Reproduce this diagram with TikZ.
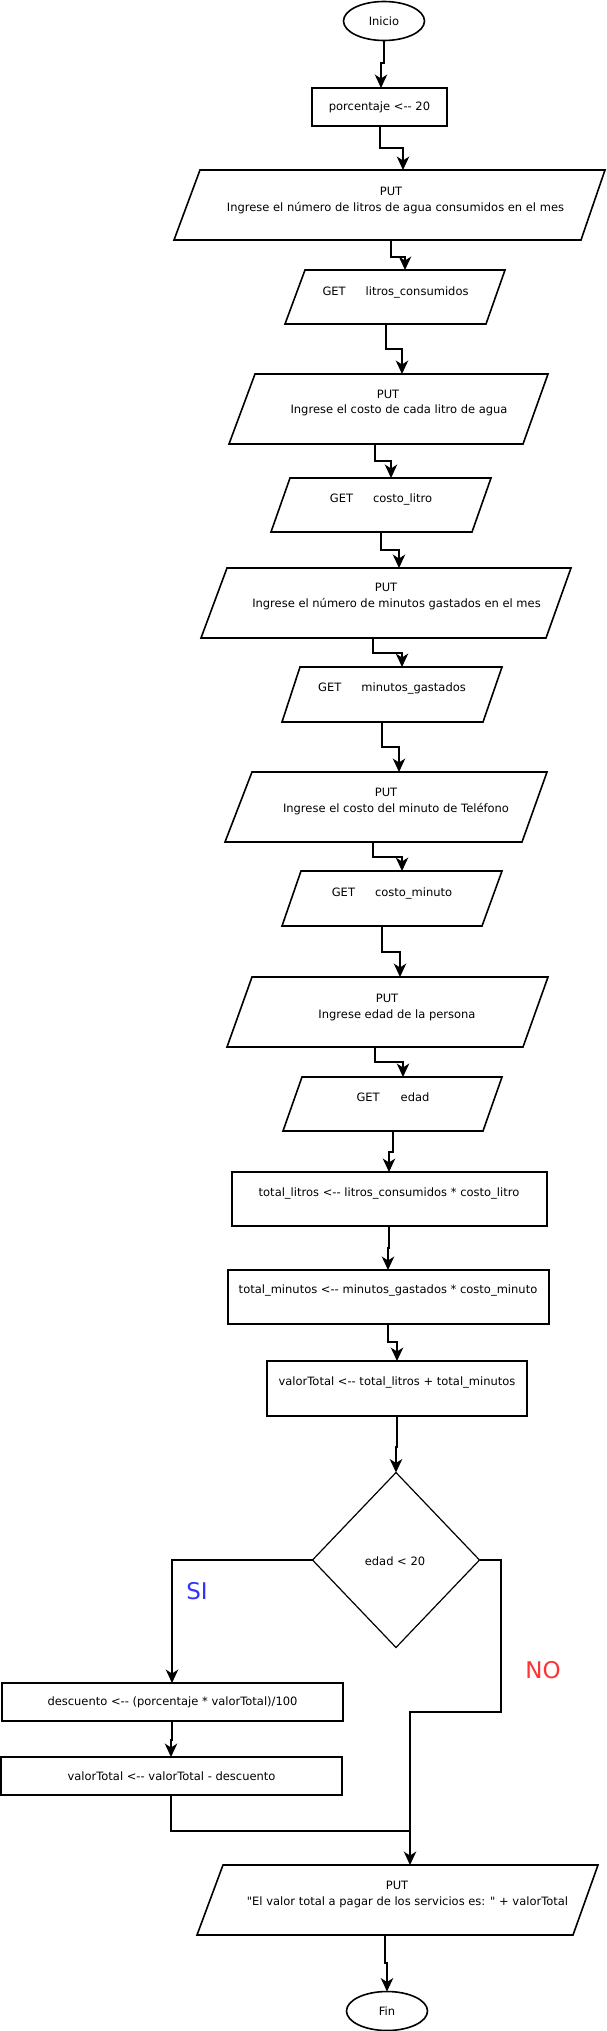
\documentclass[tikz,border=0pt]{standalone}
\usepackage{fontspec}
\newfontfamily\dv{DejaVu Sans}
\usetikzlibrary{shapes.geometric,arrows.meta}
\definecolor{siblue}{RGB}{51,51,255}
\definecolor{nored}{RGB}{255,51,51}
\tikzset{
 box/.style={draw, line width=1.7pt, inner sep=0pt, outer sep=0pt},
 term/.style={ellipse, draw, line width=1.6pt, inner sep=0pt, outer sep=0pt, minimum width=81pt, minimum height=39pt, font=\dv\fontsize{11.5}{14}\selectfont},
 ioline/.style={line width=1.6pt, line join=miter},
 inv/.style={inner sep=0pt, outer sep=0pt},
 txt/.style={font=\dv\fontsize{11.5}{14}\selectfont, inner sep=0pt, anchor=base},
 big/.style={font=\dv\fontsize{23}{26}\selectfont, inner sep=0pt},
 arr/.style={line width=1.4pt, -{Stealth[length=13.5pt,width=12.5pt,inset=4pt]}},
 ln/.style={line width=1.4pt},
}
% name, top-left x, top-right x, bottom-left x, bottom-right x, top y, bottom y
\newcommand\iobox[7]{%
 \draw[ioline] (#2,#6) -- (#3,#6) -- (#5,#7) -- (#4,#7) -- cycle;
 \node[inv, minimum width={#3-#4}, minimum height={#7-#6}] (#1) at ({(#4+#3)/2},{(#6+#7)/2}) {};}
\begin{document}
\begin{tikzpicture}[x=1pt,y=-1pt]
\fill[white] (0,0) rectangle (606,2031);
\useasboundingbox (0,0) rectangle (606,2031);

% start
\node[term] (inicio) at (384,21) {Inicio};
\node[box, minimum width=135pt, minimum height=38pt, font=\dv\fontsize{11.5}{14}\selectfont] (porc) at (379.5,107) {porcentaje <-- 20};
\draw[arr] (inicio.south) -- (384,63) -- (381,63) -- (porc.north -| 381,0);

% PUT 1
\iobox{put1}{200}{605}{174}{581}{170}{240}
\node[txt] (put1a) at (391,195) {PUT};
\node[txt] (put1b) at (395.5,211) {Ingrese el número de litros de agua consumidos en el mes};
\draw[arr] (porc.south -| 380,0) -- (380,148) -- (403,148) -- (put1.north -| 403,0);

% GET 1
\iobox{get1}{305}{505}{285}{486}{270}{324}
\node[txt] (get1t) at (395.5,295) {GET\hspace{20pt}litros\_consumidos};
\draw[arr] (put1.south -| 391,0) -- (391,257) -- (405,257) -- (get1.north -| 405,0);

% PUT 2
\iobox{put2}{255}{548}{229}{523}{374}{444}
\node[txt] (put2a) at (388,398) {PUT};
\node[txt] (put2b) at (399,413) {Ingrese el costo de cada litro de agua};
\draw[arr] (get1.south -| 386,0) -- (386,349) -- (402,349) -- (put2.north -| 402,0);

% GET 2
\iobox{get2}{290}{491}{271}{472}{478}{532}
\node[txt] (get2t) at (381,502) {GET\hspace{20pt}costo\_litro};
\draw[arr] (put2.south -| 375,0) -- (375,461) -- (391,461) -- (get2.north -| 391,0);

% PUT 3
\iobox{put3}{227}{571}{201}{546}{568}{638}
\node[txt] (put3a) at (386,591) {PUT};
\node[txt] (put3b) at (396.5,607) {Ingrese el número de minutos gastados en el mes};
\draw[arr] (get2.south -| 381,0) -- (381,550) -- (399,550) -- (put3.north -| 399,0);

% GET 3
\iobox{get3}{300}{502}{282}{483}{667}{722}
\node[txt] (get3t) at (392,691) {GET\hspace{20pt}minutos\_gastados};
\draw[arr] (put3.south -| 373,0) -- (373,653) -- (402,653) -- (get3.north -| 402,0);

% PUT 4
\iobox{put4}{252}{547}{225}{522}{772}{842}
\node[txt] (put4a) at (386,796) {PUT};
\node[txt] (put4b) at (396,812) {Ingrese el costo del minuto de Teléfono};
\draw[arr] (get3.south -| 382,0) -- (382,747) -- (399,747) -- (put4.north -| 399,0);

% GET 4
\iobox{get4}{301}{502}{282}{482}{871}{926}
\node[txt] (get4t) at (392,896) {GET\hspace{20pt}costo\_minuto};
\draw[arr] (put4.south -| 373,0) -- (373,857) -- (402,857) -- (get4.north -| 402,0);

% PUT 5
\iobox{put5}{252}{548}{227}{523}{977}{1047}
\node[txt] (put5a) at (387,1002) {PUT};
\node[txt] (put5b) at (397,1018) {Ingrese edad de la persona};
\draw[arr] (get4.south -| 382,0) -- (382,952) -- (400,952) -- (put5.north -| 400,0);

% GET 5
\iobox{get5}{302}{502}{283}{483}{1077}{1131}
\node[txt] (get5t) at (393,1101) {GET\hspace{21pt}edad};
\draw[arr] (put5.south -| 375,0) -- (375,1062) -- (403,1062) -- (get5.north -| 403,0);

% assignments
\node[box, minimum width=315pt, minimum height=54pt] (tl) at (389.5,1199) {};
\node[txt] (tlt) at (389,1196) {total\_litros <-- litros\_consumidos * costo\_litro};
\draw[arr] (get5.south -| 393,0) -- (393,1152) -- (389,1152) -- (tl.north -| 389,0);

\node[box, minimum width=321pt, minimum height=54pt] (tm) at (388.5,1297) {};
\node[txt] (tmt) at (388,1293) {total\_minutos <-- minutos\_gastados * costo\_minuto};
\draw[arr] (tl.south -| 389,0) -- (389,1248) -- (388,1248) -- (tm.north -| 388,0);

\node[box, minimum width=260pt, minimum height=55pt] (vt) at (397,1388.5) {};
\node[txt] (vtt) at (397,1385) {valorTotal <-- total\_litros + total\_minutos};
\draw[arr] (tm.south -| 388,0) -- (388,1342) -- (397,1342) -- (vt.north -| 397,0);

% decision
\node[diamond, draw, line width=1.2pt, inner sep=0pt, outer sep=0pt, minimum width=167pt, minimum height=175pt] (dec) at (396,1560) {};
\node[txt] (dect) at (395,1565) {edad < 20};
\draw[arr] (vt.south -| 397,0) -- (397,1447) -- (396,1447) -- (dec.north);

% SI branch
\node[box, minimum width=341pt, minimum height=38pt, font=\dv\fontsize{11.5}{14}\selectfont] (desc) at (172.5,1702) {descuento <-- (porcentaje * valorTotal)/100};
\node[box, minimum width=341pt, minimum height=38pt, font=\dv\fontsize{11.5}{14}\selectfont] (vt2) at (171.5,1776) {valorTotal <-- valorTotal - descuento};
\draw[arr] (dec.west) -- (172,1560) -- (desc.north -| 172,0);
\draw[arr] (desc.south -| 172,0) -- (172,1740) -- (171,1740) -- (vt2.north -| 171,0);
\node[big, text=siblue] (si) at (197,1591) {SI};

% output
\iobox{put6}{223}{598}{197}{573}{1865}{1935}
\node[txt] (put6a) at (397,1889) {PUT};
\node[txt] (put6b) at (407.5,1905) {"El valor total a pagar de los servicios es: " + valorTotal};

% NO branch
\draw[arr] (dec.east) -- (501,1560) -- (501,1712) -- (410,1712) -- (put6.north -| 410,0);
\node[big, text=nored] (no) at (543,1670) {NO};
\draw[ln] (vt2.south -| 171,0) -- (171,1831) -- (410,1831);

% end
\node[term] (fin) at (387,2011) {Fin};
\draw[arr] (put6.south -| 385,0) -- (385,1963) -- (387,1963) -- (fin.north);
\end{tikzpicture}
\end{document}
